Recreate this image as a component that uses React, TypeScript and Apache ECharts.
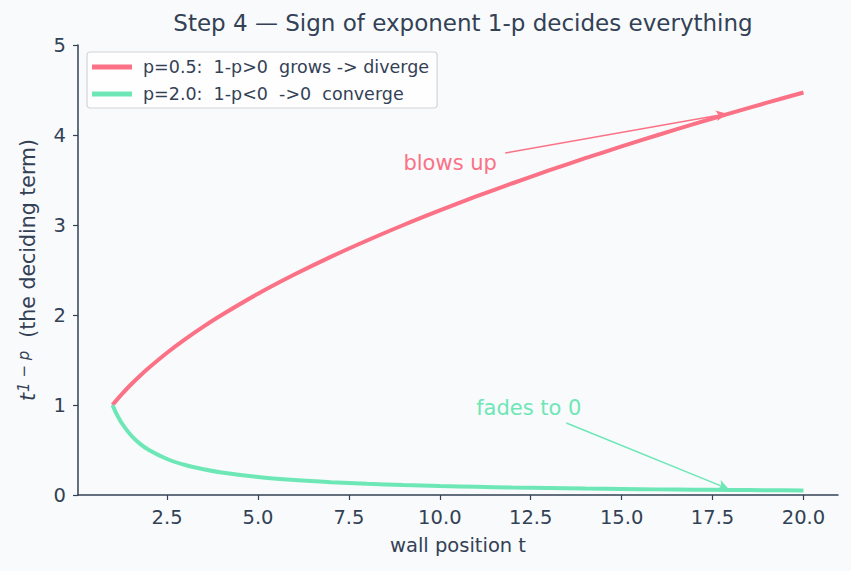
import React, { useEffect, useRef } from "react";
import * as echarts from "echarts";

const tValues = [1, 1.1, 1.25, 1.5, 1.75, 2, 2.5, 3, 3.5, 4, 5, 6, 7, 8, 9, 10, 11, 12, 13, 14, 15, 16, 17, 18, 19, 20];
const divergeValues = [1, 1.049, 1.118, 1.225, 1.323, 1.414, 1.581, 1.732, 1.871, 2.0, 2.236, 2.449, 2.646, 2.828, 3.0, 3.162, 3.317, 3.464, 3.606, 3.742, 3.873, 4.0, 4.123, 4.243, 4.359, 4.472];
const convergeValues = [1, 0.909, 0.8, 0.667, 0.571, 0.5, 0.4, 0.333, 0.286, 0.25, 0.2, 0.167, 0.143, 0.125, 0.111, 0.1, 0.091, 0.083, 0.077, 0.071, 0.067, 0.0625, 0.059, 0.056, 0.053, 0.05];
const xTicks = [2.5, 5, 7.5, 10, 12.5, 15, 17.5, 20];
const seriesNames = ["p=0.5:  1-p>0  grows -> diverge", "p=2.0:  1-p<0  ->0  converge"];
const blowsUpText = [9.0, 3.69];
const blowsUpArrow = [[11.8, 3.8], [17.9, 4.235]];
const fadesText = [11.0, 0.967];
const fadesArrow = [[13.48, 0.8], [17.95, 0.065]];

const RED = "#fb7185";
const GREEN = "#6ee7b7";
const INK = "#334155";
const FONT = "DejaVu Sans";

export default function App() {
  const ref = useRef<HTMLDivElement>(null);
  useEffect(() => {
    document.body.style.margin = "0";
    if (!ref.current) return;
    const chart = echarts.init(ref.current, undefined, { renderer: "svg" });
    const pairs = (ys: number[]) => tValues.map((t, i) => [t, ys[i]]);
    const arrowLine = (a: number[][], color: string) => ({
      silent: true,
      symbol: ["none", "arrow"],
      symbolSize: [8, 11],
      label: { show: false },
      lineStyle: { color, width: 1.5, type: "solid" },
      data: [[{ coord: a[0] }, { coord: a[1] }]],
    });
    const textPoint = (pos: number[], text: string, color: string) => ({
      silent: true,
      symbol: "circle",
      symbolSize: 0,
      label: {
        show: true,
        position: "right",
        distance: 0,
        formatter: text,
        color,
        fontSize: 21,
        fontFamily: FONT,
      },
      data: [{ coord: pos }],
    });
    chart.setOption({
      animation: false,
      backgroundColor: "#f8fafc",
      textStyle: { fontFamily: FONT },
      title: {
        text: "Step 4 — Sign of exponent 1-p decides everything",
        left: 458,
        top: 6,
        textAlign: "center",
        textStyle: { color: INK, fontSize: 23, fontWeight: "normal", fontFamily: FONT },
      },
      grid: { left: 78, right: 13, top: 45, bottom: 76 },
      legend: {
        left: 87,
        top: 52,
        orient: "vertical",
        data: seriesNames.map((n) => ({ name: n, icon: "rect" })),
        itemWidth: 40,
        itemHeight: 5,
        itemGap: 9,
        padding: [6, 8, 5, 5],
        borderColor: "#d4d4d8",
        borderWidth: 1.2,
        borderRadius: 3,
        backgroundColor: "rgba(255,255,255,0.8)",
        textStyle: { color: INK, fontSize: 17.5, fontFamily: FONT, padding: [0, 0, 0, 6] },
      },
      xAxis: {
        type: "value",
        min: 0.05,
        max: 20.95,
        name: "wall position t",
        nameLocation: "middle",
        nameGap: 40,
        nameTextStyle: { color: INK, fontSize: 19.5, fontFamily: FONT },
        axisLine: { lineStyle: { color: INK, width: 1.5 } },
        axisTick: { show: true, length: 5, customValues: xTicks, lineStyle: { color: INK, width: 1.2 } },
        axisLabel: {
          customValues: xTicks,
          formatter: (v: number) => v.toFixed(1),
          color: INK,
          fontSize: 19.5,
          margin: 12,
          fontFamily: FONT,
        },
        splitLine: { show: false },
      },
      yAxis: {
        type: "value",
        min: 0,
        max: 5,
        interval: 1,
        name: "{it|t}{sup|1 − p}{n|  (the deciding term)}",
        nameLocation: "middle",
        nameRotate: 90,
        nameGap: 38,
        nameTextStyle: {
          color: INK,
          fontSize: 20.5,
          fontFamily: FONT,
          rich: {
            it: { fontStyle: "italic", fontSize: 20.5, color: INK, fontFamily: FONT },
            sup: { fontStyle: "italic", fontSize: 15, color: INK, fontFamily: FONT, verticalAlign: "top", padding: [0, 0, 9, 1] },
            n: { fontSize: 20.5, color: INK, fontFamily: FONT },
          },
        },
        axisLine: { show: true, lineStyle: { color: INK, width: 1.5 } },
        axisTick: { show: true, length: 5, lineStyle: { color: INK, width: 1.2 } },
        axisLabel: { color: INK, fontSize: 19.5, margin: 12, fontFamily: FONT },
        splitLine: { show: false },
      },
      series: [
        {
          name: seriesNames[0],
          type: "line",
          data: pairs(divergeValues),
          smooth: 0.3,
          showSymbol: false,
          lineStyle: { color: RED, width: 4 },
          itemStyle: { color: RED },
          markLine: arrowLine(blowsUpArrow, RED),
          markPoint: textPoint(blowsUpText, "blows up", RED),
        },
        {
          name: seriesNames[1],
          type: "line",
          data: pairs(convergeValues),
          smooth: 0.3,
          showSymbol: false,
          lineStyle: { color: GREEN, width: 4 },
          itemStyle: { color: GREEN },
          markLine: arrowLine(fadesArrow, GREEN),
          markPoint: textPoint(fadesText, "fades to 0", GREEN),
        },
      ],
    });
    return () => chart.dispose();
  }, []);
  return <div ref={ref} style={{ width: 851, height: 571 }} />;
}
